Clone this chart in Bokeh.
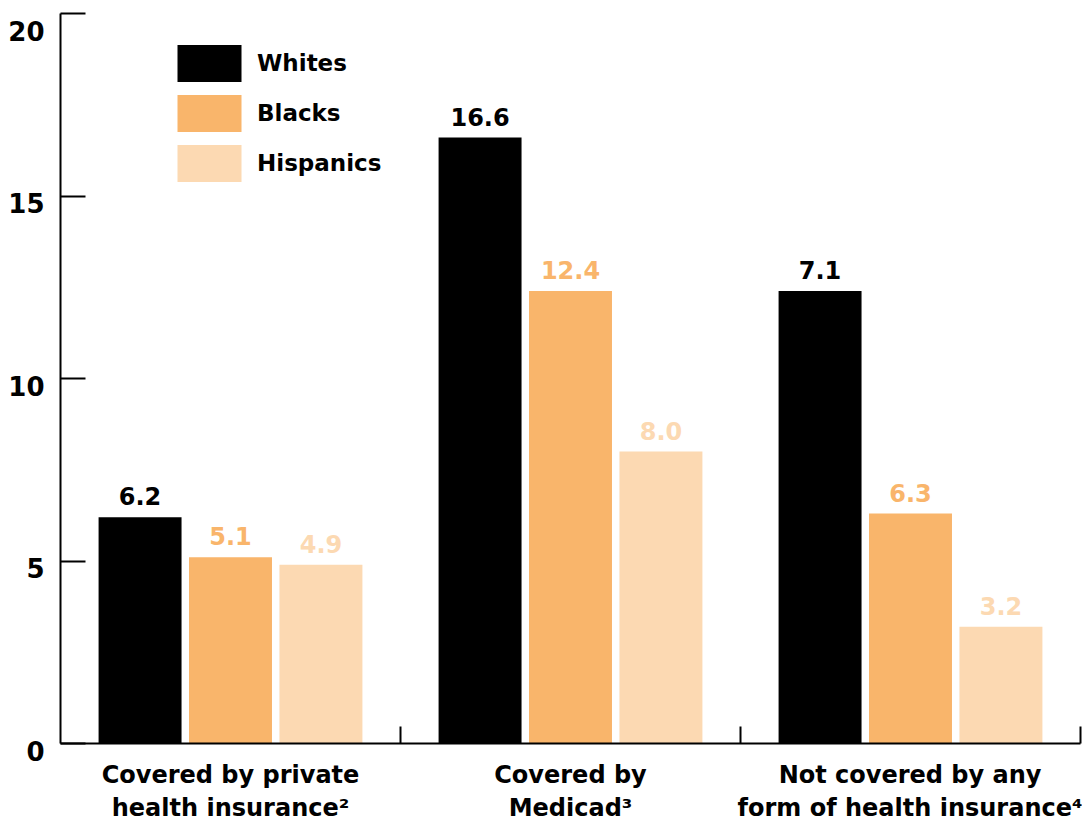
from bokeh.plotting import figure
from bokeh.models import FixedTicker, Legend, LegendItem, ColumnDataSource, Range1d
from bokeh.core.properties import value
from bokeh.embed import file_html
from bokeh.resources import INLINE

# ---- data ----
categories = ["Covered by private\nhealth insurance\u00b2",
              "Covered by\nMedicad\u00b3",
              "Not covered by any\nform of health insurance\u2074"]
series = ["Whites", "Blacks", "Hispanics"]
whites = [6.2, 16.6, 12.4]          # bar heights as drawn
blacks = [5.1, 12.4, 6.3]
hispanics = [4.9, 8.0, 3.2]
whites_labels = ["6.2", "16.6", "7.1"]   # value labels as printed
blacks_labels = ["5.1", "12.4", "6.3"]
hispanics_labels = ["4.9", "8.0", "3.2"]
y_ticks = [0, 5, 10, 15, 20]

colors = ["#000000", "#F9B56B", "#FCD9B2"]
FONT = "DejaVu Sans"

p = figure(width=1082, height=825, output_backend="svg", toolbar_location=None,
           x_range=Range1d(0, 3), y_range=Range1d(0, 20),
           min_border_left=60, min_border_right=2, min_border_top=13, min_border_bottom=82)
p.outline_line_color = None
p.xgrid.visible = False
p.ygrid.visible = False
p.background_fill_color = "white"
p.border_fill_color = "white"

offsets = [-0.266, 0.0, 0.266]
bar_w = 0.244
values = [whites, blacks, hispanics]
labels = [whites_labels, blacks_labels, hispanics_labels]
items = []
for k, (name, vals, labs, col) in enumerate(zip(series, values, labels, colors)):
    xs = [i + 0.5 + offsets[k] for i in range(len(categories))]
    src = ColumnDataSource(dict(x=xs, top=vals, lab=labs))
    r = p.vbar(x="x", top="top", width=bar_w, bottom=0, source=src,
               fill_color=col, line_color=None)
    items.append(LegendItem(label=name, renderers=[r]))
    p.text(x="x", y="top", text="lab", source=src, text_align="center",
           text_baseline="bottom", y_offset=-12, text_color=col,
           text_font=value(FONT), text_font_style="bold", text_font_size="24px")

legend = Legend(items=items, location=(109, 557), orientation="vertical",
                glyph_width=80, glyph_height=46, spacing=4, label_standoff=8,
                padding=0, margin=0, border_line_color=None,
                background_fill_alpha=0,
                label_text_font=FONT, label_text_font_style="bold",
                label_text_font_size="23px", label_text_color="black")
p.add_layout(legend, "center")

# x axis
xa = p.xaxis[0]
xa.ticker = FixedTicker(ticks=[i + 0.5 for i in range(len(categories))],
                        minor_ticks=[1, 2, 3])
xa.major_label_overrides = {i + 0.5: c for i, c in enumerate(categories)}
xa.major_tick_in = 0
xa.major_tick_out = 0
xa.minor_tick_in = 17
xa.minor_tick_out = 0
xa.minor_tick_line_color = "black"
xa.minor_tick_line_width = 2
xa.axis_line_color = "black"
xa.axis_line_width = 2
xa.major_label_standoff = 17
xa.major_label_text_font = FONT
xa.major_label_text_font_style = "bold"
xa.major_label_text_font_size = "24px"
xa.major_label_text_color = "black"

# y axis: leading blank line puts each label just below its tick
ya = p.yaxis[0]
ya.ticker = FixedTicker(ticks=y_ticks, minor_ticks=[])
ya.major_label_overrides = {t: "\n" + str(t) for t in y_ticks}
ya.major_tick_in = 25
ya.major_tick_out = 0
ya.major_tick_line_color = "black"
ya.major_tick_line_width = 2
ya.axis_line_color = "black"
ya.axis_line_width = 2
ya.major_label_standoff = 16
ya.major_label_text_font = FONT
ya.major_label_text_font_style = "bold"
ya.major_label_text_font_size = "26px"
ya.major_label_text_line_height = 0.55
ya.major_label_text_color = "black"

open("out.html", "w").write(file_html(p, INLINE))
